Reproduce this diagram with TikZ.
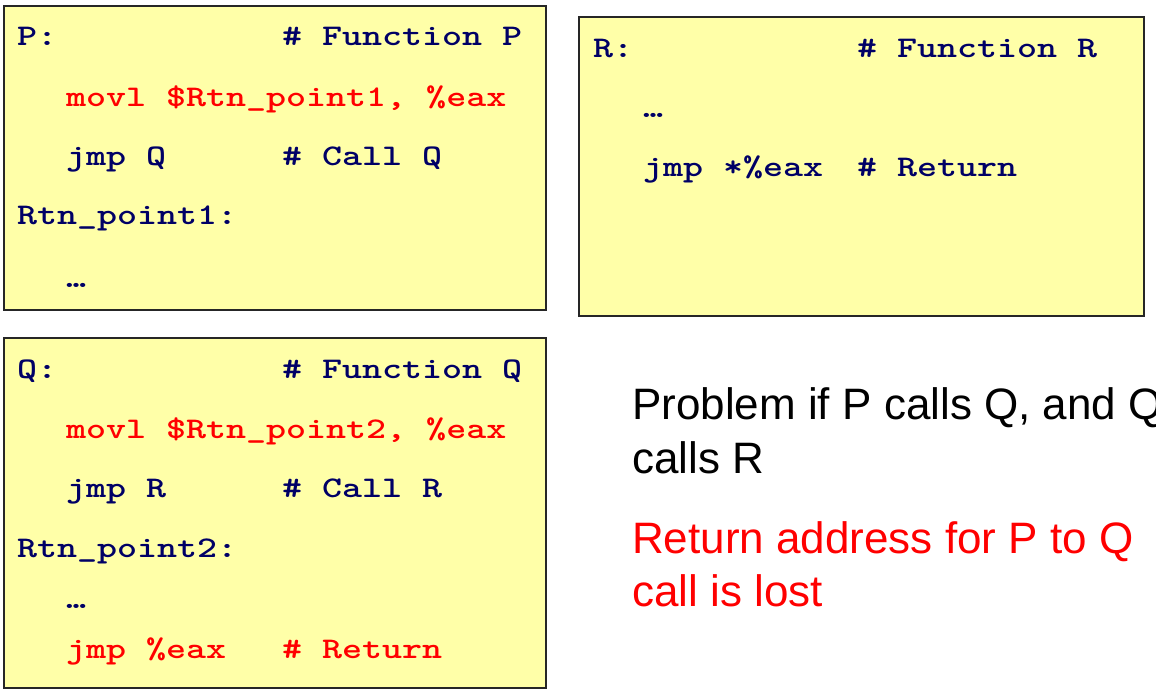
\documentclass[tikz,border=0pt]{standalone}
\usepackage{fontspec}
\usepackage{graphicx}
\newfontfamily\notefont{Liberation Sans}
\definecolor{navy}{RGB}{0,0,102}
\definecolor{boxfill}{RGB}{255,255,168}
\definecolor{hot}{RGB}{255,0,0}
\newcommand{\cd}[1]{\scalebox{1.27}[1]{#1}}
\begin{document}
\begin{tikzpicture}[x=1bp,y=-1bp,
  codebox/.style={draw=black!85, line width=1.3bp, fill=boxfill},
  code/.style={anchor=base west, inner sep=0, text=navy, font=\fontsize{30bp}{30bp}\selectfont\ttfamily\bfseries},
  codered/.style={code, text=hot},
  note/.style={anchor=base west, inner sep=0, font=\fontsize{44bp}{44bp}\selectfont\notefont},
  notered/.style={note, text=hot}]
\path[use as bounding box, clip] (0,0) rectangle (1156,692);
\fill[white] (0,0) rectangle (1156,692);
% boxes
\draw[codebox] (4,6) rectangle (546,310);
\draw[codebox] (579,17) rectangle (1144,316);
\draw[codebox] (4,338) rectangle (546,688);
% P
\node[code] (p1) at (17,46) {\cd{P:}};
\node[code] (p1c) at (282,46) {\cd{\# Function P}};
\node[codered] (p2) at (66,107) {\cd{movl \$Rtn\_point1, \%eax}};
\node[code] (p3) at (66,166) {\cd{jmp Q}};
\node[code] (p3c) at (282,166) {\cd{\# Call Q}};
\node[code] (p4) at (17,225) {\cd{Rtn\_point1:}};
\node[code] (p5) at (66,287) {\cd{\textellipsis}};
% R
\node[code] (r1) at (593,58) {\cd{R:}};
\node[code] (r1c) at (857,58) {\cd{\# Function R}};
\node[code] (r2) at (643,118) {\cd{\textellipsis}};
\node[code] (r3) at (643,177) {\cd{jmp *\%eax}};
\node[code] (r3c) at (857,177) {\cd{\# Return}};
% Q
\node[code] (q1) at (17,378) {\cd{Q:}};
\node[code] (q1c) at (282,378) {\cd{\# Function Q}};
\node[codered] (q2) at (66,438) {\cd{movl \$Rtn\_point2, \%eax}};
\node[code] (q3) at (66,497) {\cd{jmp R}};
\node[code] (q3c) at (282,497) {\cd{\# Call R}};
\node[code] (q4) at (17,557) {\cd{Rtn\_point2:}};
\node[code] (q5) at (66,608) {\cd{\textellipsis}};
\node[codered] (q6) at (66,658) {\cd{jmp \%eax}};
\node[codered] (q6c) at (282,658) {\cd{\# Return}};
% notes
\node[note] (n1) at (632,419) {Problem if P calls Q, and Q};
\node[note] (n2) at (632,473) {calls R};
\node[notered] (n3) at (632,553) {Return address for P to Q};
\node[notered] (n4) at (632,606) {call is lost};
\end{tikzpicture}
\end{document}
